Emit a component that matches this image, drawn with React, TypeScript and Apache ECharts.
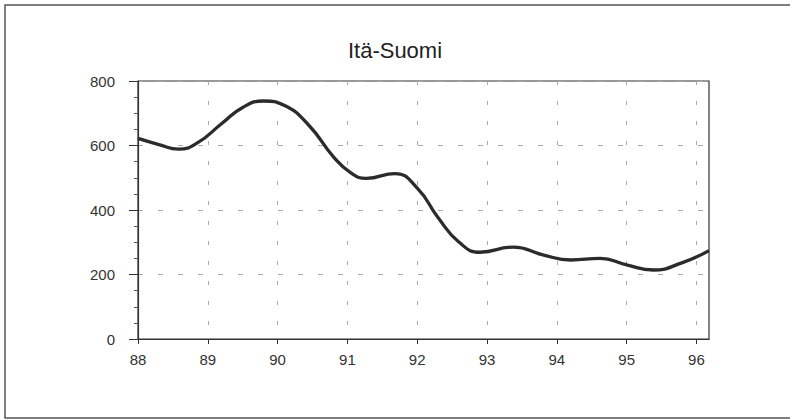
import React, { useEffect, useRef } from "react";
import * as echarts from "echarts";

const TITLE = "Itä-Suomi";
const years = [
  88, 88.3, 88.58, 88.85, 89.2, 89.5, 89.8, 90.1, 90.45, 90.8, 91.05, 91.27,
  91.68, 92, 92.3, 92.6, 92.9, 93.38, 93.8, 94.2, 94.62, 95, 95.38, 95.8, 96.18,
];
const values = [
  622, 603, 589, 608, 668, 718, 738, 724, 662, 565, 515, 498, 513, 468, 376, 300,
  269, 285, 261, 245, 250, 230, 214, 237, 274,
];
const xTicks = [88, 89, 90, 91, 92, 93, 94, 95, 96];
const xMin = 88;
const xMax = 96.18;
const yMin = 0;
const yMax = 800;
const yStep = 200;

const FONT = "'Liberation Sans', Arial, Helvetica, sans-serif";

export default function App() {
  const ref = useRef<HTMLDivElement>(null);
  useEffect(() => {
    if (!ref.current) return;
    const chart = echarts.init(ref.current, null, { renderer: "svg" });
    chart.setOption({
      animation: false,
      backgroundColor: "#ffffff",
      title: {
        text: TITLE,
        left: 390,
        top: 34,
        textAlign: "center",
        textStyle: { fontFamily: FONT, fontSize: 22, fontWeight: "normal", color: "#222" },
      },
      graphic: [
        {
          type: "rect",
          shape: { x: 5, y: 5, width: 800, height: 413 },
          style: { fill: "none", stroke: "#555", lineWidth: 1.5 },
          silent: true,
        },
      ],
      grid: {
        left: 138,
        right: 81,
        top: 81,
        bottom: 80,
        show: true,
        borderColor: "#333",
        borderWidth: 1.2,
        backgroundColor: "transparent",
      },
      xAxis: {
        type: "value",
        min: xMin,
        max: xMax,
        interval: 1,
        axisLine: { show: true, onZero: false, lineStyle: { color: "#333", width: 1.2 } },
        axisTick: { show: true, inside: false, length: 5, customValues: xTicks, lineStyle: { color: "#333" } },
        axisLabel: {
          customValues: xTicks,
          margin: 13,
          fontFamily: FONT,
          fontSize: 15,
          color: "#333",
          formatter: (v: number) => String(v),
        },
        splitLine: { show: true, lineStyle: { color: "#aaa", type: [4, 16], width: 1 } },
      },
      yAxis: {
        type: "value",
        min: yMin,
        max: yMax,
        interval: yStep,
        axisLine: { show: true, lineStyle: { color: "#333", width: 1.2 } },
        axisTick: { show: true, length: 9, lineStyle: { color: "#333" } },
        minorTick: { show: true, splitNumber: 4, length: 4, lineStyle: { color: "#555" } },
        axisLabel: { margin: 23, fontFamily: FONT, fontSize: 15, color: "#333" },
        splitLine: { show: true, lineStyle: { color: "#aaa", type: [5, 15], width: 1 } },
      },
      series: [
        {
          type: "line",
          data: years.map((y, i) => [y, values[i]]),
          smooth: 0.5,
          showSymbol: false,
          lineStyle: { color: "#2b2b2b", width: 3.3 },
        },
      ],
    });
    return () => chart.dispose();
  }, []);
  return (
    <div
      ref={ref}
      style={{ position: "absolute", left: 0, top: 0, width: 790, height: 419 }}
    />
  );
}
